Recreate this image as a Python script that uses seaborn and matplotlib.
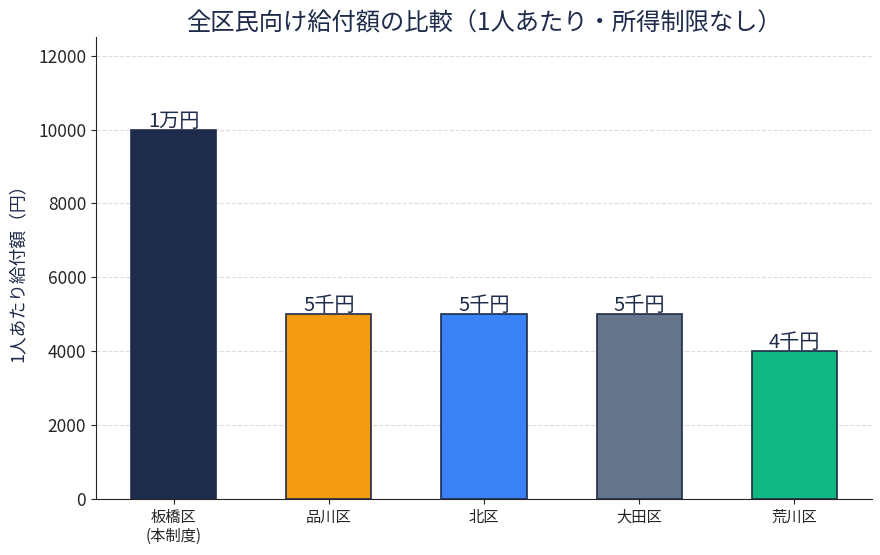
import pandas as pd
import seaborn as sns
import matplotlib.pyplot as plt

# data
wards = ['板橋区\n(本制度)', '品川区', '北区', '大田区', '荒川区']
amounts = [10000, 5000, 5000, 5000, 4000]
bar_labels = ['1万円', '5千円', '5千円', '5千円', '4千円']
colors = ['#1e2b4a', '#f39c12', '#3b82f6', '#64748b', '#10b981']

navy = '#1e2b4a'

sns.set_style('ticks')
plt.rcParams['font.family'] = ['Noto Sans CJK JP', 'DejaVu Sans']

df = pd.DataFrame({'ward': wards, 'amount': amounts})

fig, ax = plt.subplots(figsize=(8.8, 5.55), dpi=100)
sns.barplot(x='ward', y='amount', data=df, hue='ward', palette=colors,
            legend=False, width=0.55, edgecolor=navy, linewidth=1.2,
            saturation=1, ax=ax, zorder=3)

for patch, lab in zip(ax.patches, bar_labels):
    ax.text(patch.get_x() + patch.get_width() / 2, patch.get_height() - 60, lab,
            ha='center', va='bottom', fontsize=14.5, color=navy, zorder=4)

ax.set_ylim(0, 12500)
ax.yaxis.grid(True, linestyle='--', color='#dddddd', linewidth=0.8, zorder=0)
ax.set_axisbelow(True)
ax.set_xlabel('')
ax.set_ylabel('1人あたり給付額（円）', fontsize=12.8, color=navy, labelpad=8)
ax.set_title('全区民向け給付額の比較（1人あたり・所得制限なし）',
             fontsize=17.5, color=navy, pad=5)
ax.tick_params(axis='y', labelsize=12.5)
ax.tick_params(axis='x', labelsize=11)
sns.despine(ax=ax)

plt.subplots_adjust(left=0.109, right=0.991, top=0.933, bottom=0.101)
plt.savefig('out.png', dpi=100)
